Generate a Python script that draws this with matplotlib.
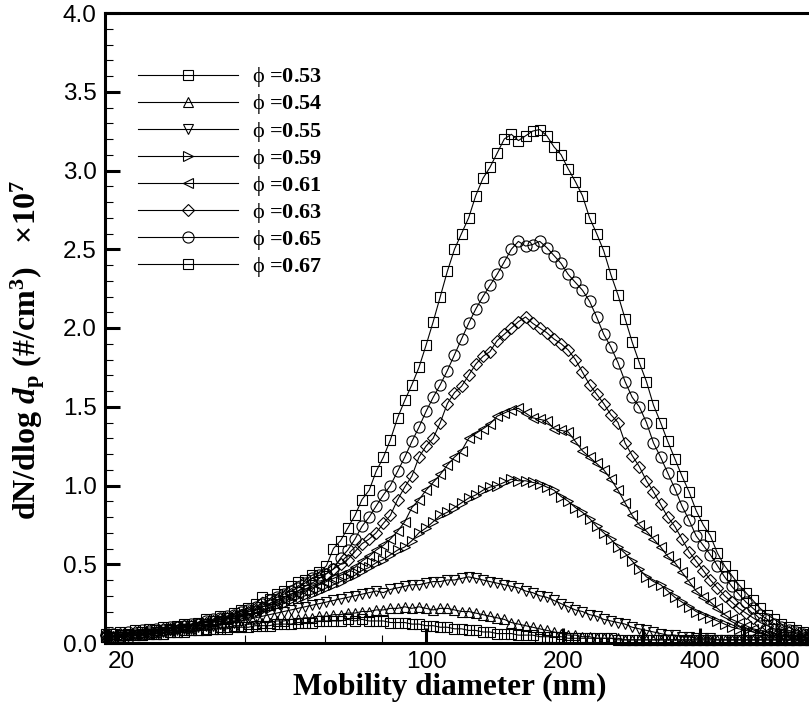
import matplotlib
matplotlib.use("Agg")
import matplotlib.pyplot as plt
from matplotlib.ticker import (FixedLocator, FixedFormatter, NullFormatter,
                               MultipleLocator, FormatStrFormatter)

plt.rcParams["font.family"] = "Liberation Sans"
plt.rcParams["mathtext.fontset"] = "custom"
plt.rcParams["mathtext.rm"] = "Liberation Serif:bold"
plt.rcParams["mathtext.it"] = "Liberation Serif:italic:bold"
plt.rcParams["mathtext.bf"] = "Liberation Serif:bold"
plt.rcParams["mathtext.sf"] = "Liberation Serif"

# SMPS channel mid-point diameters (nm)
diameter_nm = [
    19.8, 20.5, 21.3, 22.1, 22.9, 23.7, 24.6, 25.5, 26.4, 27.4,
    28.4, 29.4, 30.5, 31.6, 32.8, 34.0, 35.2, 36.5, 37.9, 39.2,
    40.7, 42.2, 43.7, 45.3, 47.0, 48.7, 50.5, 52.3, 54.2, 56.2,
    58.3, 60.4, 62.6, 64.9, 67.3, 69.8, 72.3, 75.0, 77.7, 80.6,
    83.5, 86.6, 89.8, 93.1, 96.5, 100.0, 103.7, 107.5, 111.4, 115.5,
    119.7, 124.1, 128.6, 133.4, 138.2, 143.3, 148.6, 154.0, 159.6, 165.5,
    171.5, 177.8, 184.3, 191.1, 198.1, 205.4, 212.9, 220.7, 228.8, 237.1,
    245.8, 254.8, 264.2, 273.8, 283.9, 294.3, 305.1, 316.2, 327.8, 339.8,
    352.3, 365.2, 378.6, 392.4, 406.8, 421.7, 437.1, 453.2, 469.8, 487.0,
    504.8, 523.3, 542.5, 562.3, 582.9, 604.3, 626.4, 649.4, 673.2, 697.8,
]

phi = ["0.53", "0.54", "0.55", "0.59", "0.61", "0.63", "0.65", "0.67"]

# dN/dlog dp  (x 1e7 #/cm3)
conc_053 = [
    0.04, 0.04, 0.04, 0.05, 0.05, 0.05, 0.06, 0.06, 0.06, 0.07,
    0.07, 0.07, 0.08, 0.08, 0.08, 0.09, 0.09, 0.09, 0.10, 0.10,
    0.10, 0.11, 0.11, 0.11, 0.12, 0.12, 0.12, 0.13, 0.13, 0.13,
    0.14, 0.14, 0.14, 0.14, 0.15, 0.14, 0.15, 0.14, 0.14, 0.14,
    0.13, 0.13, 0.13, 0.12, 0.12, 0.11, 0.11, 0.10, 0.10, 0.09,
    0.09, 0.08, 0.08, 0.07, 0.07, 0.06, 0.06, 0.06, 0.05, 0.05,
    0.05, 0.04, 0.04, 0.04, 0.04, 0.03, 0.03, 0.03, 0.03, 0.03,
    0.03, 0.03, 0.02, 0.02, 0.02, 0.02, 0.02, 0.02, 0.02, 0.02,
    0.02, 0.02, 0.02, 0.02, 0.02, 0.02, 0.02, 0.02, 0.02, 0.02,
    0.02, 0.02, 0.02, 0.02, 0.02, 0.02, 0.02, 0.02, 0.02, 0.02,
]
conc_054 = [
    0.04, 0.04, 0.05, 0.04, 0.05, 0.05, 0.06, 0.06, 0.06, 0.07,
    0.07, 0.08, 0.08, 0.08, 0.09, 0.09, 0.10, 0.10, 0.11, 0.11,
    0.12, 0.12, 0.13, 0.13, 0.14, 0.14, 0.15, 0.15, 0.16, 0.16,
    0.17, 0.17, 0.18, 0.18, 0.19, 0.19, 0.20, 0.20, 0.21, 0.21,
    0.22, 0.22, 0.23, 0.22, 0.23, 0.22, 0.21, 0.22, 0.22, 0.21,
    0.20, 0.20, 0.19, 0.18, 0.17, 0.16, 0.15, 0.13, 0.12, 0.11,
    0.10, 0.09, 0.08, 0.07, 0.06, 0.05, 0.05, 0.04, 0.04, 0.03,
    0.03, 0.03, 0.03, 0.02, 0.02, 0.02, 0.02, 0.02, 0.02, 0.02,
    0.02, 0.02, 0.02, 0.02, 0.02, 0.02, 0.02, 0.02, 0.02, 0.02,
    0.02, 0.02, 0.02, 0.02, 0.02, 0.02, 0.02, 0.02, 0.02, 0.02,
]
conc_055 = [
    0.04, 0.04, 0.05, 0.05, 0.05, 0.06, 0.06, 0.07, 0.07, 0.08,
    0.08, 0.09, 0.09, 0.10, 0.11, 0.11, 0.12, 0.13, 0.13, 0.14,
    0.15, 0.16, 0.17, 0.18, 0.19, 0.20, 0.21, 0.22, 0.23, 0.24,
    0.25, 0.26, 0.27, 0.28, 0.29, 0.30, 0.31, 0.32, 0.33, 0.32,
    0.34, 0.35, 0.36, 0.37, 0.37, 0.38, 0.39, 0.39, 0.40, 0.40,
    0.41, 0.42, 0.41, 0.40, 0.39, 0.38, 0.37, 0.36, 0.35, 0.33,
    0.32, 0.30, 0.29, 0.27, 0.25, 0.23, 0.21, 0.20, 0.18, 0.17,
    0.15, 0.14, 0.13, 0.12, 0.10, 0.09, 0.08, 0.07, 0.06, 0.05,
    0.05, 0.04, 0.04, 0.03, 0.03, 0.03, 0.02, 0.02, 0.02, 0.02,
    0.02, 0.02, 0.02, 0.02, 0.02, 0.02, 0.02, 0.02, 0.02, 0.02,
]
conc_059 = [
    0.04, 0.05, 0.04, 0.05, 0.06, 0.05, 0.07, 0.06, 0.08, 0.08,
    0.09, 0.10, 0.10, 0.11, 0.12, 0.13, 0.14, 0.15, 0.16, 0.17,
    0.18, 0.19, 0.21, 0.22, 0.24, 0.25, 0.27, 0.28, 0.30, 0.31,
    0.33, 0.35, 0.37, 0.39, 0.41, 0.43, 0.46, 0.48, 0.51, 0.53,
    0.56, 0.59, 0.61, 0.65, 0.70, 0.73, 0.77, 0.81, 0.83, 0.86,
    0.89, 0.92, 0.94, 0.97, 0.99, 1.00, 1.02, 1.04, 1.03, 1.03,
    1.02, 1.01, 0.99, 0.97, 0.93, 0.90, 0.86, 0.83, 0.79, 0.74,
    0.70, 0.66, 0.61, 0.57, 0.52, 0.47, 0.42, 0.39, 0.37, 0.33,
    0.29, 0.26, 0.23, 0.20, 0.18, 0.16, 0.14, 0.12, 0.10, 0.09,
    0.08, 0.07, 0.06, 0.05, 0.05, 0.04, 0.04, 0.03, 0.03, 0.03,
]
conc_061 = [
    0.04, 0.05, 0.04, 0.06, 0.05, 0.07, 0.06, 0.08, 0.08, 0.09,
    0.10, 0.10, 0.11, 0.12, 0.13, 0.14, 0.15, 0.16, 0.17, 0.19,
    0.20, 0.21, 0.23, 0.24, 0.26, 0.28, 0.30, 0.32, 0.33, 0.35,
    0.37, 0.39, 0.41, 0.43, 0.45, 0.48, 0.52, 0.55, 0.59, 0.62,
    0.66, 0.71, 0.77, 0.86, 0.91, 0.97, 1.02, 1.07, 1.13, 1.18,
    1.22, 1.30, 1.33, 1.36, 1.39, 1.44, 1.46, 1.48, 1.49, 1.46,
    1.43, 1.42, 1.41, 1.36, 1.35, 1.34, 1.28, 1.22, 1.18, 1.14,
    1.10, 1.04, 0.97, 0.89, 0.81, 0.75, 0.71, 0.66, 0.61, 0.55,
    0.51, 0.45, 0.39, 0.33, 0.29, 0.26, 0.22, 0.18, 0.15, 0.13,
    0.11, 0.09, 0.08, 0.07, 0.06, 0.05, 0.05, 0.04, 0.04, 0.03,
]
conc_063 = [
    0.05, 0.04, 0.06, 0.05, 0.07, 0.06, 0.08, 0.07, 0.09, 0.09,
    0.10, 0.11, 0.11, 0.12, 0.13, 0.14, 0.15, 0.16, 0.17, 0.18,
    0.20, 0.21, 0.23, 0.25, 0.27, 0.29, 0.31, 0.33, 0.36, 0.38,
    0.41, 0.44, 0.47, 0.50, 0.53, 0.58, 0.63, 0.66, 0.70, 0.76,
    0.81, 0.91, 0.99, 1.06, 1.18, 1.25, 1.30, 1.40, 1.52, 1.59,
    1.63, 1.70, 1.77, 1.82, 1.85, 1.92, 1.96, 2.00, 2.04, 2.07,
    2.03, 2.00, 1.97, 1.93, 1.90, 1.86, 1.80, 1.72, 1.64, 1.58,
    1.52, 1.45, 1.40, 1.27, 1.19, 1.12, 1.03, 0.96, 0.88, 0.80,
    0.74, 0.66, 0.58, 0.52, 0.46, 0.40, 0.35, 0.30, 0.26, 0.22,
    0.19, 0.16, 0.13, 0.11, 0.09, 0.08, 0.07, 0.06, 0.05, 0.05,
]
conc_065 = [
    0.05, 0.06, 0.05, 0.07, 0.06, 0.08, 0.07, 0.09, 0.08, 0.10,
    0.10, 0.11, 0.12, 0.12, 0.14, 0.15, 0.16, 0.17, 0.18, 0.20,
    0.21, 0.23, 0.25, 0.27, 0.29, 0.31, 0.33, 0.35, 0.38, 0.41,
    0.43, 0.44, 0.47, 0.54, 0.59, 0.66, 0.74, 0.80, 0.87, 0.94,
    1.00, 1.09, 1.18, 1.28, 1.37, 1.47, 1.56, 1.64, 1.73, 1.83,
    1.93, 2.03, 2.12, 2.20, 2.27, 2.34, 2.42, 2.50, 2.55, 2.52,
    2.53, 2.55, 2.51, 2.46, 2.41, 2.34, 2.29, 2.24, 2.17, 2.07,
    1.96, 1.88, 1.78, 1.66, 1.56, 1.50, 1.40, 1.27, 1.18, 1.08,
    0.98, 0.87, 0.78, 0.68, 0.62, 0.56, 0.49, 0.42, 0.36, 0.31,
    0.26, 0.22, 0.18, 0.15, 0.12, 0.10, 0.08, 0.07, 0.06, 0.05,
]
conc_067 = [
    0.06, 0.06, 0.07, 0.06, 0.08, 0.07, 0.09, 0.08, 0.10, 0.09,
    0.11, 0.12, 0.11, 0.13, 0.15, 0.14, 0.17, 0.16, 0.19, 0.21,
    0.22, 0.25, 0.29, 0.28, 0.31, 0.33, 0.36, 0.39, 0.40, 0.43,
    0.45, 0.49, 0.60, 0.65, 0.73, 0.81, 0.91, 0.97, 1.09, 1.18,
    1.29, 1.43, 1.54, 1.64, 1.75, 1.89, 2.04, 2.20, 2.36, 2.50,
    2.60, 2.70, 2.84, 2.95, 3.02, 3.11, 3.20, 3.23, 3.19, 3.22,
    3.25, 3.26, 3.22, 3.15, 3.10, 3.01, 2.93, 2.84, 2.70, 2.60,
    2.49, 2.34, 2.21, 2.06, 1.91, 1.78, 1.66, 1.51, 1.40, 1.28,
    1.17, 1.06, 0.96, 0.84, 0.75, 0.68, 0.57, 0.49, 0.43, 0.37,
    0.32, 0.27, 0.22, 0.18, 0.15, 0.12, 0.10, 0.08, 0.07, 0.06,
]

all_series = [conc_053, conc_054, conc_055, conc_059,
              conc_061, conc_063, conc_065, conc_067]
markers = ["s", "^", "v", ">", "<", "D", "o", "s"]
msizes = [6.5, 7.5, 7.5, 7.5, 7.5, 6.0, 8.0, 6.5]

fig = plt.figure(figsize=(8.09, 7.10), dpi=100)
ax = fig.add_axes([105 / 809, 67 / 710, 710 / 809, 630 / 710])

for p, y, m, ms in zip(phi, all_series, markers, msizes):
    ax.plot(diameter_nm, y, color="black", lw=0.8, marker=m, ms=ms,
            mfc="none", mec="black", mew=0.8,
            label=r"$\mathsf{\phi}$ =" + p, clip_on=False)

ax.set_xscale("log")
ax.set_xlim(19.7, 716)
ax.set_ylim(0, 4.0)

ax.xaxis.set_major_locator(FixedLocator([20, 100, 200, 300, 400, 500, 600]))
ax.xaxis.set_major_formatter(FixedFormatter(["20", "100", "200", "", "400", "", "600"]))
ax.xaxis.set_minor_locator(FixedLocator([40, 60, 80]))
ax.xaxis.set_minor_formatter(NullFormatter())
ax.yaxis.set_major_locator(MultipleLocator(0.5))
ax.yaxis.set_minor_locator(MultipleLocator(0.1))
ax.yaxis.set_major_formatter(FormatStrFormatter("%.1f"))

ax.tick_params(which="major", direction="in", length=11, width=2.2,
               labelsize=17.5, pad=6, top=False, right=False)
ax.tick_params(which="minor", direction="in", length=6, width=0.8,
               top=False, right=False)
# the "20" label sits a little right of its tick in the original
ax.get_xticklabels()[0].set_horizontalalignment("left")

for side in ["top", "left", "bottom"]:
    ax.spines[side].set_linewidth(2.2)
ax.spines["right"].set_visible(False)

ax.set_xlabel("Mobility diameter (nm)", family="Liberation Serif",
              weight="bold", fontsize=22.5)
ax.xaxis.set_label_coords(0.486, -0.047)
ax.set_ylabel(r"dN/dlog $\mathit{d}_\mathrm{p}$ (#/cm$^3$)   $\times$10$^7$",
              family="Liberation Serif", weight="bold", fontsize=23)
ax.yaxis.set_label_coords(-0.081, 0.465)

ax.legend(loc="upper left", bbox_to_anchor=(0.0465, 0.917), frameon=False,
          borderaxespad=0, borderpad=0, handlelength=4.5, handletextpad=0.62,
          labelspacing=0.14, numpoints=1,
          prop={"family": ["Liberation Serif", "DejaVu Serif"],
                "weight": "bold", "size": 16})

fig.savefig("out.png", dpi=100)
